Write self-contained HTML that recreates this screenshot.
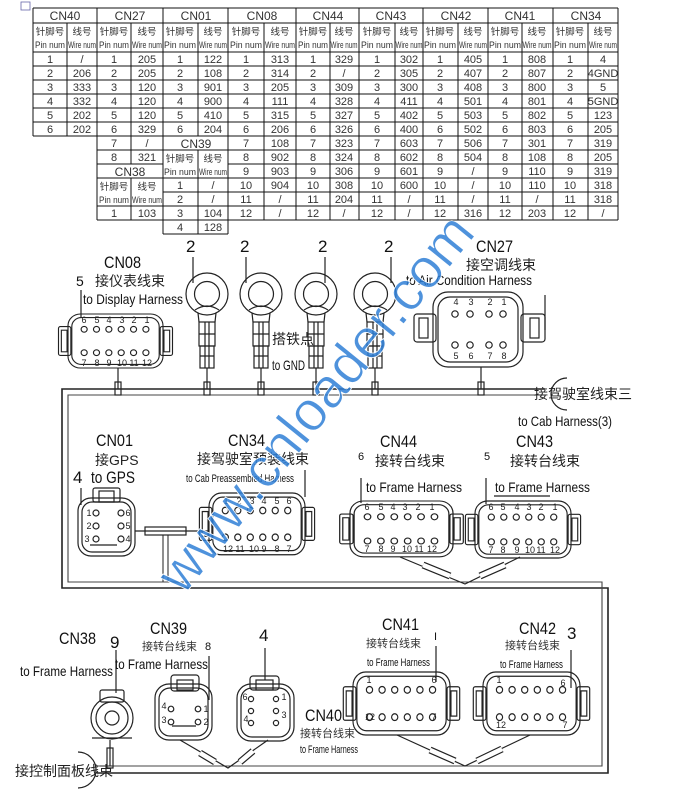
<!DOCTYPE html>
<html><head><meta charset="utf-8"><style>
html,body{margin:0;padding:0;background:#fff}
svg{display:block}
.t{font-family:"Liberation Sans Narrow","Liberation Sans",sans-serif;font-size:11px;fill:#333;text-anchor:middle}
.h{font-family:"Liberation Sans Narrow","Liberation Sans",sans-serif;font-size:12px;fill:#333;text-anchor:middle}
.s{font-family:"Liberation Sans","Noto Sans CJK SC",sans-serif;font-size:9.5px;fill:#333;text-anchor:middle}
.L{font-family:"Liberation Sans Narrow","Liberation Sans",sans-serif;font-size:17px;fill:#111}
.E{font-family:"Liberation Sans Narrow","Liberation Sans",sans-serif;font-size:14px;fill:#111}
.e{font-family:"Liberation Sans Narrow","Liberation Sans",sans-serif;font-size:11px;fill:#111}
.C{font-family:"Liberation Sans","Noto Sans CJK SC",sans-serif;font-size:14px;fill:#222}
.c{font-family:"Liberation Sans","Noto Sans CJK SC",sans-serif;font-size:11px;fill:#333}
.n{font-family:"Liberation Sans",sans-serif;font-size:9px;fill:#222;text-anchor:middle}
.k{stroke:#222;fill:none;stroke-width:1.2}
</style></head><body>
<svg width="680" height="796" viewBox="0 0 680 796" xmlns="http://www.w3.org/2000/svg">
<rect x="21" y="2" width="9" height="8" fill="none" stroke="#66a" stroke-width="0.8"/>
<!-- TABLE LINES -->
<g stroke="#111" stroke-width="1" fill="none">
<path d="M33 8H618M33 23H618M33 52H618M33 66H618M33 80H618M33 94H618M33 108H618M33 122H618M33 136H618"/>
<path d="M97 150H618M97 164H163M228 164H618M97 178H618M163 192H618M97 206H618M97 220H618M163 234H228"/>
<path d="M33 8V136M67 23V136M97 8V220M131 23V164M131 178V220M163 8V234M198 23V136M198 150V234M228 8V234"/>
<path d="M264 23V220M296 8V220M330 23V220M359 8V220M395 23V220M423 8V220M458 23V220M488 8V220M522 23V220M553 8V220M588 23V220M618 8V220"/>
</g>
<g class="h">
<text x="65" y="20">CN40</text><text x="130" y="20">CN27</text><text x="196" y="20">CN01</text><text x="262" y="20">CN08</text><text x="328" y="20">CN44</text><text x="391" y="20">CN43</text><text x="456" y="20">CN42</text><text x="520" y="20">CN41</text><text x="586" y="20">CN34</text>
<text x="196" y="148">CN39</text><text x="130" y="176">CN38</text>
</g>
<g class="s">
<text x="50" y="35">针脚号</text><text x="82" y="35">线号</text><text x="50" y="48" textLength="30" lengthAdjust="spacingAndGlyphs">Pin num</text><text x="82" y="48" textLength="28" lengthAdjust="spacingAndGlyphs">Wire num</text>
<text x="114" y="35">针脚号</text><text x="147" y="35">线号</text><text x="114" y="48" textLength="30" lengthAdjust="spacingAndGlyphs">Pin num</text><text x="147" y="48" textLength="30" lengthAdjust="spacingAndGlyphs">Wire num</text>
<text x="180" y="35">针脚号</text><text x="213" y="35">线号</text><text x="180" y="48" textLength="32" lengthAdjust="spacingAndGlyphs">Pin num</text><text x="213" y="48" textLength="28" lengthAdjust="spacingAndGlyphs">Wire num</text>
<text x="246" y="35">针脚号</text><text x="280" y="35">线号</text><text x="246" y="48" textLength="32" lengthAdjust="spacingAndGlyphs">Pin num</text><text x="280" y="48" textLength="30" lengthAdjust="spacingAndGlyphs">Wire num</text>
<text x="313" y="35">针脚号</text><text x="344" y="35">线号</text><text x="313" y="48" textLength="30" lengthAdjust="spacingAndGlyphs">Pin num</text><text x="344" y="48" textLength="27" lengthAdjust="spacingAndGlyphs">Wire num</text>
<text x="377" y="35">针脚号</text><text x="409" y="35">线号</text><text x="377" y="48" textLength="32" lengthAdjust="spacingAndGlyphs">Pin num</text><text x="409" y="48" textLength="27" lengthAdjust="spacingAndGlyphs">Wire num</text>
<text x="440" y="35">针脚号</text><text x="473" y="35">线号</text><text x="440" y="48" textLength="32" lengthAdjust="spacingAndGlyphs">Pin num</text><text x="473" y="48" textLength="28" lengthAdjust="spacingAndGlyphs">Wire num</text>
<text x="505" y="35">针脚号</text><text x="537" y="35">线号</text><text x="505" y="48" textLength="32" lengthAdjust="spacingAndGlyphs">Pin num</text><text x="537" y="48" textLength="29" lengthAdjust="spacingAndGlyphs">Wire num</text>
<text x="570" y="35">针脚号</text><text x="603" y="35">线号</text><text x="570" y="48" textLength="32" lengthAdjust="spacingAndGlyphs">Pin num</text><text x="603" y="48" textLength="28" lengthAdjust="spacingAndGlyphs">Wire num</text>
<text x="180" y="162">针脚号</text><text x="213" y="162">线号</text><text x="180" y="175" textLength="32" lengthAdjust="spacingAndGlyphs">Pin num</text><text x="213" y="175" textLength="28" lengthAdjust="spacingAndGlyphs">Wire num</text>
<text x="114" y="190">针脚号</text><text x="147" y="190">线号</text><text x="114" y="203" textLength="30" lengthAdjust="spacingAndGlyphs">Pin num</text><text x="147" y="203" textLength="30" lengthAdjust="spacingAndGlyphs">Wire num</text>
</g>
<g class="t">
<text x="50" y="63">1</text><text x="82" y="63">/</text>
<text x="50" y="77">2</text><text x="82" y="77">206</text>
<text x="50" y="91">3</text><text x="82" y="91">333</text>
<text x="50" y="105">4</text><text x="82" y="105">332</text>
<text x="50" y="119">5</text><text x="82" y="119">202</text>
<text x="50" y="133">6</text><text x="82" y="133">202</text>
<text x="114" y="63">1</text><text x="147" y="63">205</text>
<text x="114" y="77">2</text><text x="147" y="77">205</text>
<text x="114" y="91">3</text><text x="147" y="91">120</text>
<text x="114" y="105">4</text><text x="147" y="105">120</text>
<text x="114" y="119">5</text><text x="147" y="119">120</text>
<text x="114" y="133">6</text><text x="147" y="133">329</text>
<text x="114" y="147">7</text><text x="147" y="147">/</text>
<text x="114" y="161">8</text><text x="147" y="161">321</text>
<text x="114" y="217">1</text><text x="147" y="217">103</text>
<text x="180" y="63">1</text><text x="213" y="63">122</text>
<text x="180" y="77">2</text><text x="213" y="77">108</text>
<text x="180" y="91">3</text><text x="213" y="91">901</text>
<text x="180" y="105">4</text><text x="213" y="105">900</text>
<text x="180" y="119">5</text><text x="213" y="119">410</text>
<text x="180" y="133">6</text><text x="213" y="133">204</text>
<text x="180" y="189">1</text><text x="213" y="189">/</text>
<text x="180" y="203">2</text><text x="213" y="203">/</text>
<text x="180" y="217">3</text><text x="213" y="217">104</text>
<text x="180" y="231">4</text><text x="213" y="231">128</text>
<text x="246" y="63">1</text><text x="280" y="63">313</text>
<text x="246" y="77">2</text><text x="280" y="77">314</text>
<text x="246" y="91">3</text><text x="280" y="91">205</text>
<text x="246" y="105">4</text><text x="280" y="105">111</text>
<text x="246" y="119">5</text><text x="280" y="119">315</text>
<text x="246" y="133">6</text><text x="280" y="133">206</text>
<text x="246" y="147">7</text><text x="280" y="147">108</text>
<text x="246" y="161">8</text><text x="280" y="161">902</text>
<text x="246" y="175">9</text><text x="280" y="175">903</text>
<text x="246" y="189">10</text><text x="280" y="189">904</text>
<text x="246" y="203">11</text><text x="280" y="203">/</text>
<text x="246" y="217">12</text><text x="280" y="217">/</text>
<text x="313" y="63">1</text><text x="344" y="63">329</text>
<text x="313" y="77">2</text><text x="344" y="77">/</text>
<text x="313" y="91">3</text><text x="344" y="91">309</text>
<text x="313" y="105">4</text><text x="344" y="105">328</text>
<text x="313" y="119">5</text><text x="344" y="119">327</text>
<text x="313" y="133">6</text><text x="344" y="133">326</text>
<text x="313" y="147">7</text><text x="344" y="147">323</text>
<text x="313" y="161">8</text><text x="344" y="161">324</text>
<text x="313" y="175">9</text><text x="344" y="175">306</text>
<text x="313" y="189">10</text><text x="344" y="189">308</text>
<text x="313" y="203">11</text><text x="344" y="203">204</text>
<text x="313" y="217">12</text><text x="344" y="217">/</text>
<text x="377" y="63">1</text><text x="409" y="63">302</text>
<text x="377" y="77">2</text><text x="409" y="77">305</text>
<text x="377" y="91">3</text><text x="409" y="91">300</text>
<text x="377" y="105">4</text><text x="409" y="105">411</text>
<text x="377" y="119">5</text><text x="409" y="119">402</text>
<text x="377" y="133">6</text><text x="409" y="133">400</text>
<text x="377" y="147">7</text><text x="409" y="147">603</text>
<text x="377" y="161">8</text><text x="409" y="161">602</text>
<text x="377" y="175">9</text><text x="409" y="175">601</text>
<text x="377" y="189">10</text><text x="409" y="189">600</text>
<text x="377" y="203">11</text><text x="409" y="203">/</text>
<text x="377" y="217">12</text><text x="409" y="217">/</text>
<text x="440" y="63">1</text><text x="473" y="63">405</text>
<text x="440" y="77">2</text><text x="473" y="77">407</text>
<text x="440" y="91">3</text><text x="473" y="91">408</text>
<text x="440" y="105">4</text><text x="473" y="105">501</text>
<text x="440" y="119">5</text><text x="473" y="119">503</text>
<text x="440" y="133">6</text><text x="473" y="133">502</text>
<text x="440" y="147">7</text><text x="473" y="147">506</text>
<text x="440" y="161">8</text><text x="473" y="161">504</text>
<text x="440" y="175">9</text><text x="473" y="175">/</text>
<text x="440" y="189">10</text><text x="473" y="189">/</text>
<text x="440" y="203">11</text><text x="473" y="203">/</text>
<text x="440" y="217">12</text><text x="473" y="217">316</text>
<text x="505" y="63">1</text><text x="537" y="63">808</text>
<text x="505" y="77">2</text><text x="537" y="77">807</text>
<text x="505" y="91">3</text><text x="537" y="91">800</text>
<text x="505" y="105">4</text><text x="537" y="105">801</text>
<text x="505" y="119">5</text><text x="537" y="119">802</text>
<text x="505" y="133">6</text><text x="537" y="133">803</text>
<text x="505" y="147">7</text><text x="537" y="147">301</text>
<text x="505" y="161">8</text><text x="537" y="161">108</text>
<text x="505" y="175">9</text><text x="537" y="175">110</text>
<text x="505" y="189">10</text><text x="537" y="189">110</text>
<text x="505" y="203">11</text><text x="537" y="203">/</text>
<text x="505" y="217">12</text><text x="537" y="217">203</text>
<text x="570" y="63">1</text><text x="603" y="63">4</text>
<text x="570" y="77">2</text><text x="603" y="77">4GND</text>
<text x="570" y="91">3</text><text x="603" y="91">5</text>
<text x="570" y="105">4</text><text x="603" y="105">5GND</text>
<text x="570" y="119">5</text><text x="603" y="119">123</text>
<text x="570" y="133">6</text><text x="603" y="133">205</text>
<text x="570" y="147">7</text><text x="603" y="147">319</text>
<text x="570" y="161">8</text><text x="603" y="161">205</text>
<text x="570" y="175">9</text><text x="603" y="175">319</text>
<text x="570" y="189">10</text><text x="603" y="189">318</text>
<text x="570" y="203">11</text><text x="603" y="203">318</text>
<text x="570" y="217">12</text><text x="603" y="217">/</text>
</g>

<defs>
<g id="c12">
<rect x="-10" y="14" width="13" height="32" rx="2" class="k" fill="#fff"/>
<rect x="-7" y="18" width="6" height="24" class="k"/>
<rect x="97" y="14" width="13" height="32" rx="2" class="k" fill="#fff"/>
<rect x="101" y="18" width="6" height="24" class="k"/>
<rect x="0" y="0" width="100" height="60" rx="13" class="k" fill="#fff" stroke-width="1.5"/>
<rect x="4" y="4" width="92" height="52" rx="10" class="k"/>
<g class="k">
<circle cx="17" cy="17" r="3.2"/><circle cx="30" cy="17" r="3.2"/><circle cx="43" cy="17" r="3.2"/><circle cx="56" cy="17" r="3.2"/><circle cx="69" cy="17" r="3.2"/><circle cx="82" cy="17" r="3.2"/>
<circle cx="17" cy="43" r="3.2"/><circle cx="30" cy="43" r="3.2"/><circle cx="43" cy="43" r="3.2"/><circle cx="56" cy="43" r="3.2"/><circle cx="69" cy="43" r="3.2"/><circle cx="82" cy="43" r="3.2"/>
</g>
</g>
<g id="ring">
<circle cx="0" cy="0" r="21" class="k" fill="#fff" stroke-width="1.5"/>
<circle cx="0" cy="0" r="12.5" class="k" stroke-width="1.3"/>
<path d="M-12 16 Q0 8 12 16" class="k"/>
<path d="M-9 19 L-8 28 M9 19 L8 28" class="k"/>
<rect x="-8" y="28" width="16" height="24" class="k" fill="#fff"/>
<rect x="-7" y="52" width="14" height="22" class="k" fill="#fff"/>
<path d="M-2 28V74M2 28V74M-8 40H8M-7 62H7" class="k" stroke-width="0.9"/>
</g>
</defs>

<!-- TRUNK -->
<path d="M545 389H62V588H608V773H97" fill="none" stroke="#222" stroke-width="1.6"/>
<path d="M545 395H68V582H602V766H97" fill="none" stroke="#444" stroke-width="1.1"/>
<path d="M163 535V582M168 535V582" stroke="#333" stroke-width="1.1"/>

<path d="M567 378 A16 16 0 0 0 567 410" class="k"/>
<text x="534" y="399" class="C">接驾驶室线束三</text>
<text x="518" y="426" class="E" textLength="94" lengthAdjust="spacingAndGlyphs">to Cab Harness(3)</text>

<!-- CN08 -->
<text x="104" y="268" class="L" textLength="37" lengthAdjust="spacingAndGlyphs">CN08</text>
<text x="76" y="286" class="E">5</text>
<text x="95" y="286" class="C">接仪表线束</text>
<text x="83" y="304" class="E" textLength="100" lengthAdjust="spacingAndGlyphs">to Display Harness</text>
<path d="M81 290V318" class="k"/>
<g transform="translate(68,314) scale(0.95,0.9)"><use href="#c12"/></g>
<g class="n"><text x="84" y="323">6</text><text x="97" y="323">5</text><text x="109" y="323">4</text><text x="122" y="323">3</text><text x="134" y="323">2</text><text x="147" y="323">1</text>
<text x="84" y="366">7</text><text x="97" y="366">8</text><text x="109" y="366">9</text><text x="122" y="366">10</text><text x="134" y="366">11</text><text x="147" y="366">12</text></g>
<path d="M118 368V389" class="k"/><rect x="115" y="382" width="6" height="13" class="k" fill="#fff"/>

<use href="#ring" x="207" y="294"/>
<use href="#ring" x="261" y="294"/>
<use href="#ring" x="316" y="294"/>
<use href="#ring" x="375" y="294"/>
<g class="k"><path d="M207 368V389M261 368V389M316 368V389M375 368V389"/></g>
<g fill="#fff" class="k"><rect x="204" y="382" width="6" height="13"/><rect x="258" y="382" width="6" height="13"/><rect x="313" y="382" width="6" height="13"/><rect x="372" y="382" width="6" height="13"/></g>
<g class="L"><text x="186" y="252">2</text><text x="240" y="252">2</text><text x="318" y="252">2</text><text x="384" y="252">2</text></g>
<path d="M193 257V283M246 257V283M325 257V283M391 257V283" class="k"/>
<text x="272" y="344" class="C">搭铁点</text>
<text x="272" y="370" class="E" textLength="33" lengthAdjust="spacingAndGlyphs">to GND</text>

<!-- CN27 -->
<text x="476" y="252" class="L" textLength="37" lengthAdjust="spacingAndGlyphs">CN27</text>
<text x="466" y="270" class="C">接空调线束</text>
<text x="406" y="285" class="E" textLength="126" lengthAdjust="spacingAndGlyphs">to Air Condition Harness</text>
<rect x="414" y="314" width="22" height="28" rx="3" class="k" fill="#fff"/>
<rect x="419" y="318" width="9" height="20" class="k"/>
<rect x="521" y="314" width="24" height="28" rx="3" class="k" fill="#fff"/>
<rect x="530" y="318" width="9" height="20" class="k"/>
<rect x="433" y="292" width="90" height="75" rx="15" class="k" fill="#fff" stroke-width="1.5"/>
<rect x="438" y="297" width="80" height="65" rx="12" class="k"/>
<path d="M545 295V330" class="k"/>
<g class="k"><circle cx="455" cy="314" r="3.2"/><circle cx="470" cy="314" r="3.2"/><circle cx="489" cy="314" r="3.2"/><circle cx="503" cy="314" r="3.2"/>
<circle cx="455" cy="345" r="3.2"/><circle cx="470" cy="345" r="3.2"/><circle cx="489" cy="345" r="3.2"/><circle cx="503" cy="345" r="3.2"/></g>
<g class="n"><text x="456" y="305">4</text><text x="471" y="305">3</text><text x="490" y="305">2</text><text x="504" y="305">1</text>
<text x="456" y="359">5</text><text x="471" y="359">6</text><text x="490" y="359">7</text><text x="504" y="359">8</text></g>
<path d="M481 367V389" class="k"/><rect x="478" y="382" width="6" height="13" class="k" fill="#fff"/>

<!-- CN01 -->
<text x="96" y="446" class="L" textLength="37" lengthAdjust="spacingAndGlyphs">CN01</text>
<text x="95" y="465" class="C">接GPS</text>
<text x="73" y="483" class="L">4</text>
<text x="91" y="483" class="L" textLength="44" lengthAdjust="spacingAndGlyphs">to GPS</text>
<path d="M81 488V505" class="k"/>
<rect x="93" y="488" width="27" height="14" rx="2" class="k" fill="#fff"/>
<rect x="99" y="491" width="15" height="11" class="k"/>
<rect x="78" y="498" width="57" height="58" rx="13" class="k" fill="#fff" stroke-width="1.5"/>
<rect x="82" y="502" width="49" height="50" rx="10" class="k"/>
<g class="k"><circle cx="96" cy="513" r="3"/><circle cx="96" cy="526" r="3"/><circle cx="96" cy="539" r="3"/><circle cx="121" cy="513" r="3"/><circle cx="121" cy="526" r="3"/><circle cx="121" cy="539" r="3"/><path d="M90 545H117"/></g>
<g class="n"><text x="89" y="516">1</text><text x="89" y="529">2</text><text x="87" y="542">3</text><text x="128" y="516">6</text><text x="128" y="529">5</text><text x="128" y="542">4</text></g>
<path d="M135 531H208" class="k"/>
<rect x="145" y="527" width="41" height="8" class="k" fill="#fff"/>

<!-- CN34 -->
<text x="228" y="446" class="L" textLength="37" lengthAdjust="spacingAndGlyphs">CN34</text>
<text x="197" y="464" class="C">接驾驶室预装线束</text>
<text x="186" y="482" class="e" textLength="108" lengthAdjust="spacingAndGlyphs">to Cab Preassembled Harness</text>
<path d="M305 470V497" class="k"/>
<g transform="translate(209,493) scale(0.96,1.03)"><use href="#c12"/></g>
<g class="n"><text x="226" y="504">1</text><text x="239" y="504">2</text><text x="252" y="504">3</text><text x="264" y="504">4</text><text x="277" y="504">5</text><text x="289" y="504">6</text>
<text x="228" y="552">12</text><text x="240" y="552">11</text><text x="254" y="552">10</text><text x="264" y="552">9</text><text x="277" y="552">8</text><text x="289" y="552">7</text></g>

<!-- CN44 -->
<text x="380" y="447" class="L" textLength="37" lengthAdjust="spacingAndGlyphs">CN44</text>
<text x="358" y="460" class="e">6</text>
<text x="375" y="466" class="C">接转台线束</text>
<text x="366" y="492" class="E" textLength="96" lengthAdjust="spacingAndGlyphs">to Frame Harness</text>
<path d="M361 478V503" class="k"/>
<g transform="translate(350,501) scale(1.03,0.93)"><use href="#c12"/></g>
<g class="n"><text x="367" y="510">6</text><text x="381" y="510">5</text><text x="393" y="510">4</text><text x="405" y="510">3</text><text x="418" y="510">2</text><text x="432" y="510">1</text>
<text x="367" y="552">7</text><text x="381" y="552">8</text><text x="393" y="552">9</text><text x="407" y="552">10</text><text x="419" y="552">11</text><text x="432" y="552">12</text></g>

<!-- CN43 -->
<text x="516" y="447" class="L" textLength="37" lengthAdjust="spacingAndGlyphs">CN43</text>
<text x="484" y="460" class="e">5</text>
<text x="510" y="466" class="C">接转台线束</text>
<text x="495" y="492" class="E" textLength="95" lengthAdjust="spacingAndGlyphs">to Frame Harness</text>
<path d="M494 496H550" class="k" stroke-width="0.9"/>
<path d="M486 478V504" class="k"/>
<g transform="translate(475,501) scale(0.96,0.95)"><use href="#c12"/></g>
<g class="n"><text x="491" y="510">6</text><text x="503" y="510">5</text><text x="517" y="510">4</text><text x="529" y="510">3</text><text x="541" y="510">2</text><text x="555" y="510">1</text>
<text x="491" y="553">7</text><text x="503" y="553">8</text><text x="517" y="553">9</text><text x="530" y="553">10</text><text x="541" y="553">11</text><text x="555" y="553">12</text></g>

<path d="M400 557L465 584L520 557" class="k"/>
<path d="M423 565L450 576M480 576L505 565" stroke="#222" stroke-width="7"/>
<path d="M423 565L450 576M480 576L505 565" stroke="#fff" stroke-width="4.6"/>

<!-- CN38 -->
<text x="59" y="644" class="L" textLength="37" lengthAdjust="spacingAndGlyphs">CN38</text>
<text x="110" y="648" class="L">9</text>
<text x="20" y="676" class="E" textLength="93" lengthAdjust="spacingAndGlyphs">to Frame Harness</text>
<path d="M116 650V693" class="k"/>
<path d="M92 738H132" class="k"/>
<rect x="100" y="690" width="24" height="12" rx="2" class="k" fill="#fff"/>
<circle cx="112" cy="718" r="21" class="k" fill="#fff" stroke-width="1.5"/>
<circle cx="112" cy="718" r="16" class="k"/>
<circle cx="112" cy="718" r="7" class="k"/>
<path d="M110 740V766" class="k"/><rect x="107" y="748" width="6" height="20" class="k" fill="#fff"/>

<!-- CN39 -->
<text x="150" y="634" class="L" textLength="37" lengthAdjust="spacingAndGlyphs">CN39</text>
<text x="142" y="650" class="c">接转台线束</text>
<text x="205" y="650" class="e">8</text>
<text x="115" y="669" class="E" textLength="93" lengthAdjust="spacingAndGlyphs">to Frame Harness</text>
<path d="M209 656V700" class="k"/>
<rect x="171" y="675" width="28" height="16" rx="3" class="k" fill="#fff"/>
<rect x="177" y="680" width="16" height="10" class="k"/>
<rect x="155" y="684" width="57" height="56" rx="14" class="k" fill="#fff" stroke-width="1.5"/>
<rect x="159" y="688" width="49" height="48" rx="11" class="k"/>
<g class="k"><circle cx="171" cy="709" r="2.8"/><circle cx="198" cy="709" r="2.8"/><circle cx="171" cy="722" r="2.8"/><circle cx="198" cy="722" r="2.8"/><path d="M172 726H196"/></g>
<g class="n"><text x="164" y="709">4</text><text x="206" y="712">1</text><text x="164" y="723">3</text><text x="206" y="725">2</text></g>

<text x="259" y="641" class="L">4</text>
<path d="M265 648V680" class="k"/>
<rect x="250" y="676" width="29" height="14" rx="3" class="k" fill="#fff"/>
<rect x="256" y="680" width="17" height="10" class="k"/>
<rect x="237" y="684" width="57" height="57" rx="14" class="k" fill="#fff" stroke-width="1.5"/>
<rect x="241" y="688" width="49" height="49" rx="11" class="k"/>
<g class="k"><circle cx="251" cy="699" r="2.6"/><circle cx="276" cy="699" r="2.6"/><circle cx="251" cy="711" r="2.6"/><circle cx="276" cy="711" r="2.6"/><circle cx="251" cy="723" r="2.6"/><circle cx="276" cy="723" r="2.6"/></g>
<g class="n"><text x="245" y="700">6</text><text x="284" y="700">1</text><text x="246" y="722">4</text><text x="284" y="718">3</text></g>
<path d="M180 740L228 768L268 740" class="k"/>
<path d="M200 753L215 762M240 762L253 751" stroke="#222" stroke-width="7"/>
<path d="M200 753L215 762M240 762L253 751" stroke="#fff" stroke-width="4.6"/>

<path d="M78 752 A18 18 0 0 1 78 788" class="k"/>
<text x="15" y="776" class="C">接控制面板线束</text>

<!-- CN40 -->
<text x="305" y="721" class="L" textLength="37" lengthAdjust="spacingAndGlyphs">CN40</text>
<text x="300" y="737" class="c">接转台线束</text>
<text x="300" y="753" class="e" textLength="58" lengthAdjust="spacingAndGlyphs">to Frame Harness</text>

<!-- CN41 -->
<text x="382" y="630" class="L" textLength="37" lengthAdjust="spacingAndGlyphs">CN41</text>
<text x="366" y="647" class="c">接转台线束</text>
<text x="434" y="640" class="e">I</text>
<text x="367" y="666" class="e" textLength="63" lengthAdjust="spacingAndGlyphs">to Frame Harness</text>
<path d="M436 646V682" class="k"/>
<g transform="translate(353,672) scale(0.97,1.05)"><use href="#c12"/></g>
<g class="n"><text x="369" y="683">1</text><text x="434" y="683">6</text><text x="370" y="720">12</text><text x="434" y="720">7</text></g>

<!-- CN42 -->
<text x="519" y="634" class="L" textLength="37" lengthAdjust="spacingAndGlyphs">CN42</text>
<text x="567" y="639" class="L">3</text>
<text x="505" y="649" class="c">接转台线束</text>
<text x="500" y="668" class="e" textLength="63" lengthAdjust="spacingAndGlyphs">to Frame Harness</text>
<path d="M571 650V688" class="k"/>
<g transform="translate(483,672) scale(0.97,1.05)"><use href="#c12"/></g>
<g class="n"><text x="499" y="683">1</text><text x="563" y="686">6</text><text x="501" y="728">12</text><text x="565" y="728">7</text></g>
<path d="M397 735L465 766L530 735" class="k"/>
<path d="M430 750L455 761M477 761L502 749" stroke="#222" stroke-width="7"/>
<path d="M430 750L455 761M477 761L502 749" stroke="#fff" stroke-width="4.6"/>

<text x="0" y="0" transform="translate(330,415) rotate(-51)" text-anchor="middle" font-family="Liberation Sans,sans-serif" font-size="56" fill="#2f7fd6" fill-opacity="0.85" stroke="#fff" stroke-width="0.8">www.cnloader.com</text>
</svg>
</body></html>
